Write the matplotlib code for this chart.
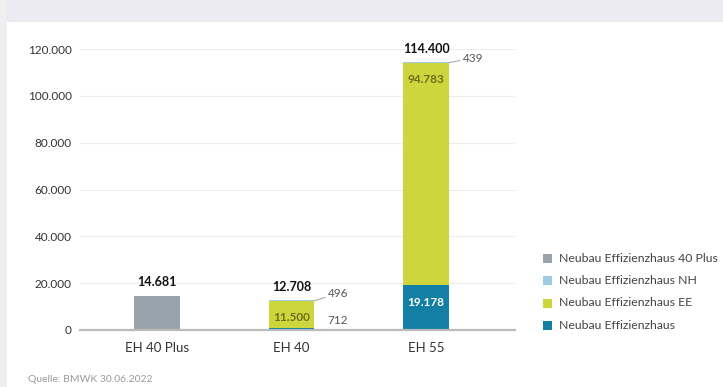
import matplotlib.pyplot as plt
from matplotlib.patches import Rectangle

plt.rcParams['font.family'] = ['Lato', 'DejaVu Sans']

# Data
categories = ['EH 40 Plus', 'EH 40', 'EH 55']
effizienzhaus = [0, 712, 19178]
effizienzhaus_ee = [0, 11500, 94783]
effizienzhaus_nh = [0, 496, 439]
effizienzhaus_40plus = [14681, 0, 0]
totals = [14681, 12708, 114400]
y_ticks = [0, 20000, 40000, 60000, 80000, 100000, 120000]

c_40plus = '#98a3ab'
c_nh = '#9ccbe6'
c_ee = '#cdd63c'
c_eh = '#137fa5'


def fmt(v):
    return f'{v:,.0f}'.replace(',', '.')


fig = plt.figure(figsize=(7.23, 3.87), dpi=100)
fig.patch.set_facecolor('white')
# page header band and left edge
fig.patches.append(Rectangle((0, 1 - 22 / 387), 1, 22 / 387, transform=fig.transFigure,
                             facecolor='#ecebf1', edgecolor='none', zorder=0))
fig.patches.append(Rectangle((0, 0), 7 / 723, 1, transform=fig.transFigure,
                             facecolor='#efeff1', edgecolor='none', zorder=0))

ax = fig.add_axes([80 / 723, 57 / 387, 435 / 723, 281 / 387])
x = list(range(len(categories)))
w = 0.34

bottom = [0, 0, 0]
for vals, col in [(effizienzhaus, c_eh), (effizienzhaus_ee, c_ee),
                  (effizienzhaus_nh, c_nh), (effizienzhaus_40plus, c_40plus)]:
    ax.bar(x, vals, w, bottom=bottom, color=col, zorder=3)
    bottom = [b + v for b, v in zip(bottom, vals)]

# totals above the bars
for i, t in enumerate(totals):
    ax.text(i, t + 5800, fmt(t), ha='center', va='center', fontsize=9,
            fontweight='bold', color='#111111')

# labels inside the segments
for i in [1, 2]:
    ax.text(i, effizienzhaus[i] + effizienzhaus_ee[i] - 7000, fmt(effizienzhaus_ee[i]),
            ha='center', va='center', fontsize=8.5, fontweight='bold', color='#6f6d1c')
ax.text(2, effizienzhaus[2] - 7500, fmt(effizienzhaus[2]),
        ha='center', va='center', fontsize=8.5, fontweight='bold', color='white')

# small segments labelled outside with leader lines
nh_offsets = [0, 3000, 1700]
for i in [1, 2]:
    top = totals[i]
    ax.annotate(fmt(effizienzhaus_nh[i]), xy=(i + w / 2, top - effizienzhaus_nh[i] / 2),
                xytext=(i + w / 2 + 0.1, top + nh_offsets[i]), fontsize=8.5,
                color='#555555', va='center', ha='left',
                arrowprops=dict(arrowstyle='-', color='#aaaaaa', lw=0.8,
                                shrinkA=0, shrinkB=0))
ax.text(1 + w / 2 + 0.1, effizienzhaus[1] + 3400, fmt(effizienzhaus[1]),
        fontsize=8.5, color='#555555', va='center', ha='left')

ax.set_xlim(-0.57, 2.66)
ax.set_ylim(0, 120000)
ax.set_yticks(y_ticks)
ax.set_yticklabels([fmt(v) for v in y_ticks], fontsize=8.5, color='#333333')
ax.set_xticks(x)
ax.set_xticklabels(categories, fontsize=9.5, color='#333333')
ax.tick_params(length=0, pad=6)
ax.tick_params(axis='x', pad=9)
ax.grid(axis='y', color='#ececec', lw=0.8, zorder=0)
for s in ['top', 'right', 'left']:
    ax.spines[s].set_visible(False)
ax.spines['bottom'].set_color('#bbbbbb')
ax.spines['bottom'].set_linewidth(1.6)
ax.spines['bottom'].set_zorder(4)

# legend
legend_items = [('Neubau Effizienzhaus 40 Plus', c_40plus),
                ('Neubau Effizienzhaus NH', c_nh),
                ('Neubau Effizienzhaus EE', c_ee),
                ('Neubau Effizienzhaus', c_eh)]
for k, (label, col) in enumerate(legend_items):
    ytop = 1 - (258 + 22.5 * k) / 387
    fig.patches.append(Rectangle((543 / 723, ytop - 4.5 / 387), 9 / 723, 9 / 387,
                                 transform=fig.transFigure, facecolor=col,
                                 edgecolor='none'))
    fig.text(559 / 723, ytop, label, fontsize=8.8, color='#444444', va='center')

fig.text(28 / 723, 1 - 380 / 387, 'Quelle: BMWK 30.06.2022', fontsize=7.5,
         color='#9a9a9a', va='center')

fig.savefig('out.png', dpi=100)
